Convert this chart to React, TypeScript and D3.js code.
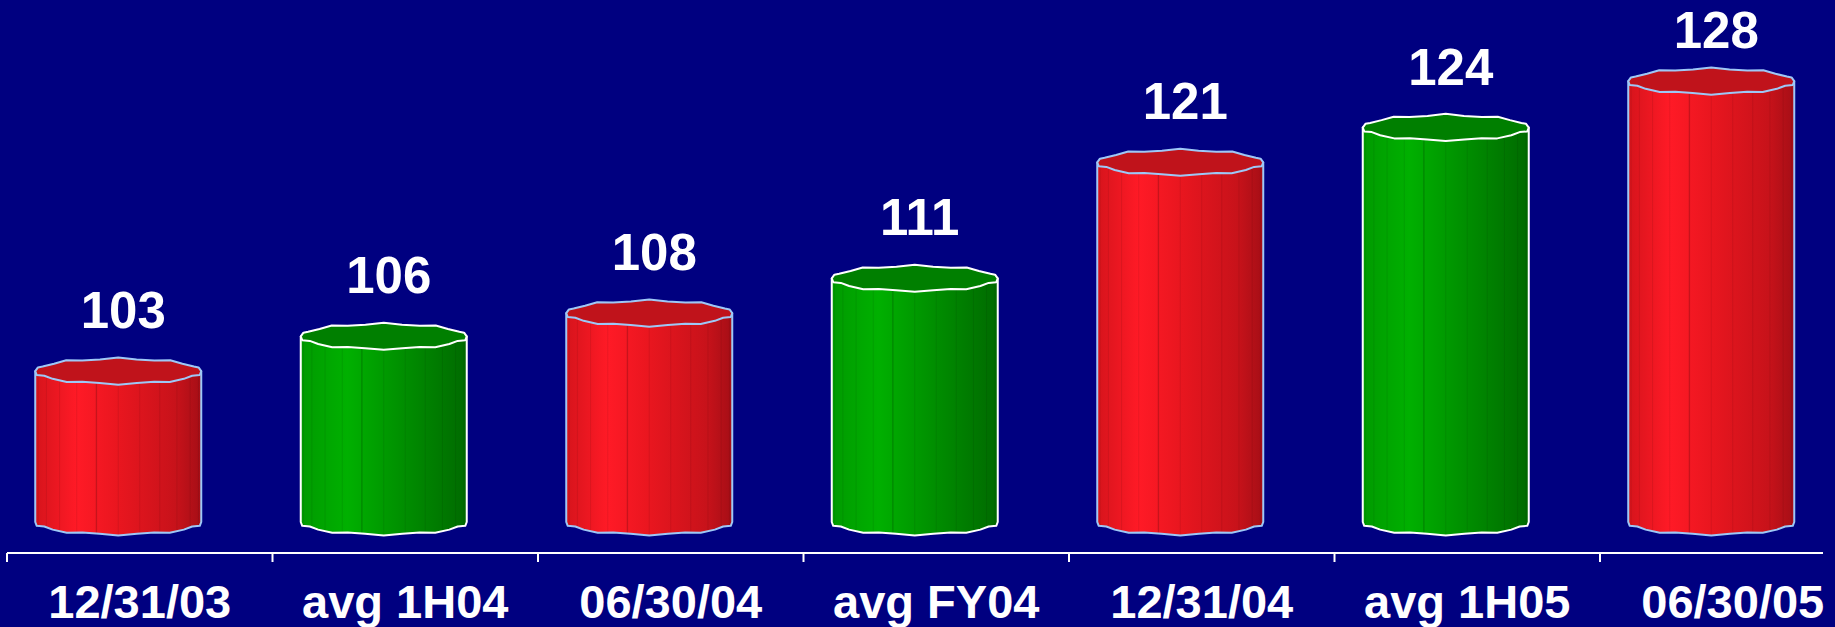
import React from 'react';
import * as d3 from 'd3';

const categories = ['12/31/03', 'avg 1H04', '06/30/04', 'avg FY04', '12/31/04', 'avg 1H05', '06/30/05'];
const values = [103, 106, 108, 111, 121, 124, 128];
// period-end figures are red, averages are green
const kinds = ['end', 'avg', 'end', 'avg', 'end', 'avg', 'end'];

const W = 1835;
const H = 627;

const palette: Record<string, { top: string; stroke: string; grad: [number, string][] }> = {
  end: {
    top: '#c0131b',
    stroke: '#9ec8f6',
    grad: [[0, '#d6141c'], [0.25, '#ff1a26'], [0.5, '#e9161f'], [0.85, '#c7121a'], [1, '#a50e16']],
  },
  avg: {
    top: '#007f00',
    stroke: '#ffffff',
    grad: [[0, '#009a00'], [0.28, '#00b000'], [0.6, '#009000'], [1, '#006a00']],
  },
};

// slightly wobbly ellipse outline, like the old 3D chart renderer
function rim(cx: number, cy: number, rx: number, ry: number, from: number, to: number, n: number) {
  const pts: [number, number][] = [];
  for (let i = 0; i <= n; i++) {
    const a = from + ((to - from) * i) / n;
    const wob = 1 + 0.012 * Math.sin(a * 11);
    pts.push([cx + rx * Math.cos(a) * wob, cy + ry * Math.sin(a) * wob + 1.1 * Math.sin(a * 9)]);
  }
  return pts;
}

const App: React.FC = () => {
  const x = d3.scaleBand<string>().domain(categories).range([7, 7 + 7 * 265.5]).padding(0);
  const y = d3.scaleLinear().domain([90, 130]).range([522, 58]);
  const bw = x.bandwidth();
  const rx = 83;
  const ry = 12.5;
  const base = y(90);
  const axisY = 553;
  const line = d3.line();
  const font = '"Liberation Sans", Arial, Helvetica, sans-serif';

  return (
    <svg width={W} height={H} style={{ position: 'absolute', left: 0, top: 0 }}>
      <defs>
        {Object.entries(palette).map(([k, p]) => (
          <linearGradient key={k} id={'g-' + k} x1="0" x2="1" y1="0" y2="0">
            {p.grad.map(([o, c]) => (
              <stop key={o} offset={o} stopColor={c} />
            ))}
          </linearGradient>
        ))}
      </defs>
      <rect width={W} height={H} fill="#000080" />

      {categories.map((c, i) => {
        const p = palette[kinds[i]];
        const cx = (x(c) as number) + bw / 2 - 21.5;
        const top = y(values[i]);
        const front = rim(cx, base, rx, ry, Math.PI, 0, 14);
        const body: [number, number][] = [[cx - rx, top], ...front, [cx + rx, top]];
        const lid = rim(cx, top, rx, ry, 0, Math.PI * 2, 28);
        const facets = d3.range(1, 12).map(k => cx - rx * Math.cos((Math.PI * k) / 12));
        return (
          <g key={c}>
            <path d={line(body) + 'Z'} fill={`url(#g-${kinds[i]})`} />
            {facets.map((fx, j) => (
              <line key={j} x1={fx} x2={fx} y1={top} y2={base + ry * Math.sin((Math.PI * (j + 1)) / 12)}
                stroke="#000" strokeOpacity={0.08} strokeWidth={1} />
            ))}
            <line x1={cx - 22} x2={cx - 22} y1={top + ry} y2={base + ry} stroke="#000" strokeOpacity={0.18} />
            <path d={line(body) + 'Z'} fill="none" stroke={p.stroke} strokeWidth={2} strokeLinejoin="round" />
            <path d={line(lid) + 'Z'} fill={p.top} stroke={p.stroke} strokeWidth={2} strokeLinejoin="round" />
            <text x={cx + 5} y={Math.max(top - 43, 48)} textAnchor="middle" fill="#fff" fontFamily={font}
              fontWeight="bold" fontSize={51}>
              {values[i]}
            </text>
          </g>
        );
      })}

      <line x1={7} x2={1823} y1={axisY} y2={axisY} stroke="#fff" strokeWidth={2} />
      {categories.map(c => (
        <line key={'t' + c} x1={x(c)} x2={x(c)} y1={axisY} y2={axisY + 9} stroke="#fff" strokeWidth={2} />
      ))}
      {categories.map(c => (
        <text key={'l' + c} x={(x(c) as number) + bw / 2} y={618} textAnchor="middle" fill="#fff"
          fontFamily={font} fontWeight="bold" fontSize={47}>
          {c}
        </text>
      ))}
    </svg>
  );
};

export default App;
